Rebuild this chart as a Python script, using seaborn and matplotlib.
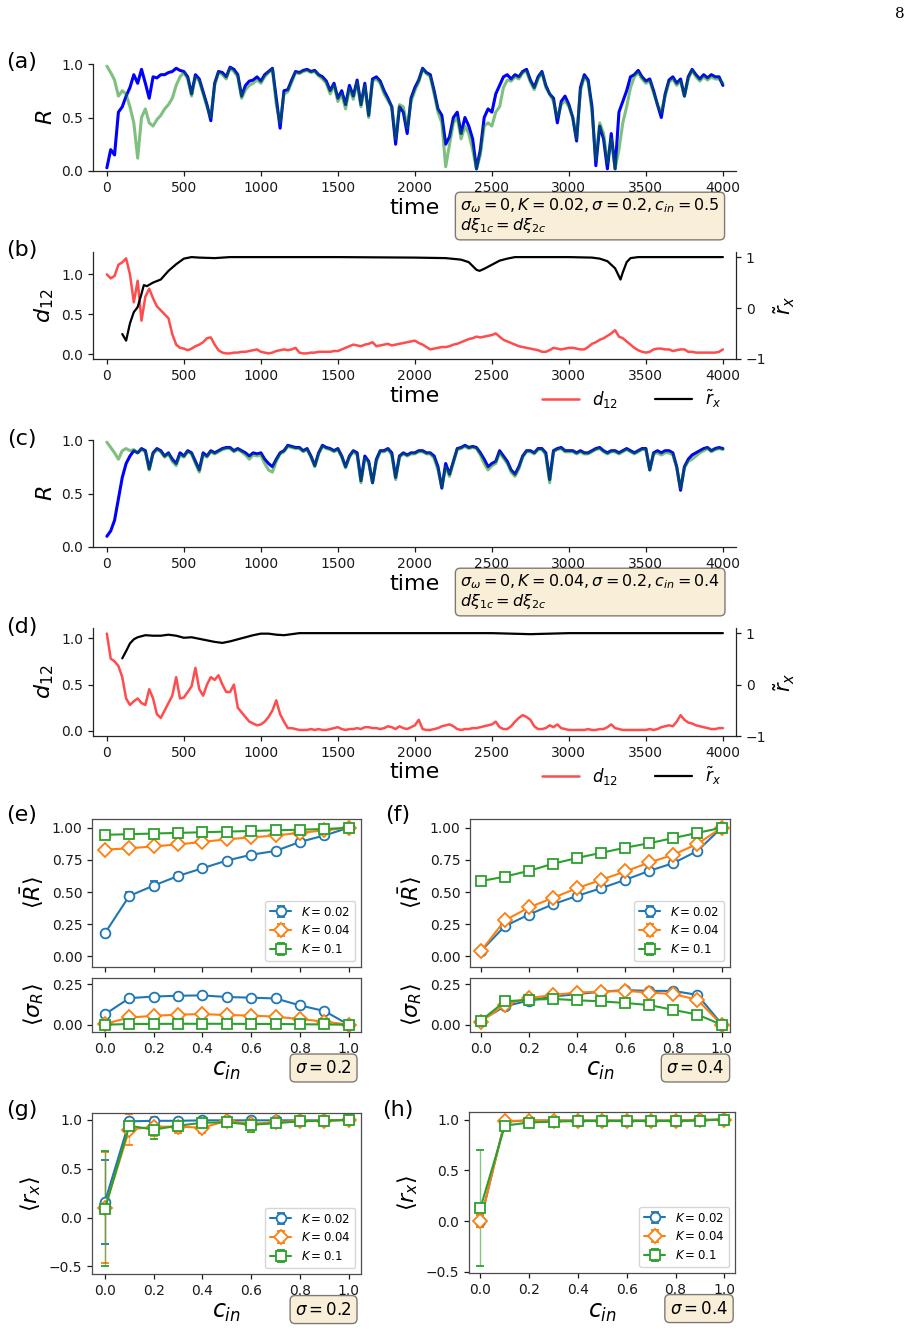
import numpy as np
import matplotlib
matplotlib.use("Agg")
import matplotlib.pyplot as plt
import seaborn as sns

# ------------------------------------------------------------------ data
DT = 25

# panel (a): sigma=0.2, K=0.02, c_in=0.5
R1_a = [0.03, 0.2, 0.15, 0.55, 0.6, 0.7, 0.78, 0.9,
        0.82, 0.95, 0.82, 0.68, 0.88, 0.87, 0.9, 0.9,
        0.92, 0.93, 0.96, 0.94, 0.93, 0.88, 0.72, 0.9,
        0.86, 0.74, 0.62, 0.47, 0.82, 0.93, 0.92, 0.88,
        0.97, 0.95, 0.9, 0.7, 0.8, 0.84, 0.85, 0.88,
        0.84, 0.9, 0.93, 0.96, 0.68, 0.4, 0.75, 0.76,
        0.85, 0.93, 0.92, 0.94, 0.95, 0.93, 0.94, 0.9,
        0.88, 0.84, 0.75, 0.82, 0.68, 0.75, 0.62, 0.8,
        0.7, 0.85, 0.62, 0.82, 0.52, 0.86, 0.88, 0.84,
        0.75, 0.68, 0.6, 0.25, 0.6, 0.55, 0.35, 0.68,
        0.78, 0.85, 0.96, 0.92, 0.9, 0.75, 0.58, 0.52,
        0.25, 0.32, 0.5, 0.55, 0.35, 0.5, 0.42, 0.3,
        0.02, 0.2, 0.5, 0.58, 0.55, 0.72, 0.8, 0.88,
        0.9, 0.86, 0.9, 0.88, 0.93, 0.95, 0.85, 0.78,
        0.88, 0.93, 0.8, 0.72, 0.68, 0.45, 0.65, 0.7,
        0.62, 0.5, 0.28, 0.78, 0.9, 0.85, 0.6, 0.05,
        0.42, 0.3, 0.02, 0.35, 0.02, 0.55, 0.65, 0.75,
        0.88, 0.9, 0.94, 0.88, 0.84, 0.86, 0.75, 0.62,
        0.5, 0.72, 0.85, 0.88, 0.82, 0.86, 0.7, 0.88,
        0.95, 0.9, 0.86, 0.9, 0.87, 0.9, 0.88, 0.88,
        0.8]
R2_a = [0.98, 0.92, 0.85, 0.7, 0.75, 0.72, 0.6, 0.45,
        0.12, 0.5, 0.58, 0.45, 0.42, 0.48, 0.52, 0.58,
        0.62, 0.68, 0.8, 0.88, 0.92, 0.86, 0.7, 0.88,
        0.84, 0.72, 0.6, 0.5, 0.8, 0.92, 0.9, 0.86,
        0.96, 0.93, 0.88, 0.68, 0.76, 0.8, 0.82, 0.85,
        0.82, 0.88, 0.92, 0.95, 0.62, 0.45, 0.72, 0.74,
        0.83, 0.92, 0.91, 0.93, 0.94, 0.92, 0.93, 0.89,
        0.86, 0.82, 0.72, 0.8, 0.65, 0.72, 0.58, 0.77,
        0.67, 0.83, 0.6, 0.8, 0.5, 0.84, 0.86, 0.82,
        0.72, 0.66, 0.6, 0.3, 0.62, 0.6, 0.4, 0.65,
        0.75, 0.83, 0.95, 0.91, 0.88, 0.72, 0.55, 0.45,
        0.04, 0.25, 0.45, 0.5, 0.3, 0.42, 0.35, 0.2,
        0.02, 0.15, 0.42, 0.45, 0.42, 0.55, 0.6, 0.78,
        0.85, 0.84, 0.88, 0.86, 0.92, 0.93, 0.83, 0.76,
        0.86, 0.92, 0.78, 0.72, 0.65, 0.5, 0.62, 0.66,
        0.6, 0.5, 0.3, 0.75, 0.88, 0.83, 0.55, 0.1,
        0.45, 0.35, 0.08, 0.3, 0.02, 0.2, 0.45, 0.6,
        0.78, 0.88, 0.92, 0.86, 0.82, 0.84, 0.73, 0.62,
        0.55, 0.7, 0.83, 0.86, 0.8, 0.84, 0.7, 0.86,
        0.94, 0.88, 0.84, 0.88, 0.85, 0.88, 0.86, 0.86,
        0.82]

# panel (b)
d12_b = [1.0, 0.95, 0.98, 1.12, 1.15, 1.2, 1.0, 0.65,
         0.92, 0.42, 0.72, 0.82, 0.7, 0.6, 0.55, 0.5,
         0.45, 0.25, 0.12, 0.08, 0.07, 0.05, 0.07, 0.1,
         0.12, 0.15, 0.2, 0.21, 0.12, 0.05, 0.02, 0.01,
         0.01, 0.02, 0.02, 0.03, 0.03, 0.04, 0.05, 0.06,
         0.03, 0.02, 0.01, 0.02, 0.04, 0.05, 0.06, 0.05,
         0.06, 0.08, 0.02, 0.01, 0.01, 0.02, 0.02, 0.03,
         0.03, 0.03, 0.03, 0.04, 0.04, 0.06, 0.08, 0.1,
         0.12, 0.11, 0.1, 0.12, 0.13, 0.15, 0.1, 0.11,
         0.12, 0.13, 0.11, 0.12, 0.13, 0.14, 0.15, 0.16,
         0.17, 0.14, 0.12, 0.09, 0.06, 0.07, 0.08, 0.09,
         0.09, 0.1, 0.12, 0.13, 0.15, 0.17, 0.19, 0.2,
         0.22, 0.21, 0.22, 0.23, 0.24, 0.26, 0.22, 0.18,
         0.16, 0.14, 0.12, 0.1, 0.09, 0.08, 0.07, 0.06,
         0.05, 0.03, 0.03, 0.05, 0.08, 0.07, 0.06, 0.07,
         0.08, 0.08, 0.07, 0.06, 0.06, 0.09, 0.13, 0.15,
         0.18, 0.2, 0.23, 0.26, 0.3, 0.22, 0.2, 0.16,
         0.12, 0.08, 0.05, 0.03, 0.02, 0.03, 0.06, 0.07,
         0.07, 0.06, 0.06, 0.04, 0.05, 0.06, 0.06, 0.03,
         0.03, 0.02, 0.02, 0.02, 0.02, 0.02, 0.02, 0.03,
         0.06]
rx_b_time = [100, 125, 150, 175, 200, 225, 240, 260, 300, 350, 400, 450,
             500, 550, 600, 700, 800, 1000, 1500, 2000, 2200, 2300, 2350,
             2400, 2420, 2450, 2500, 2550, 2600, 2650, 3000, 3150, 3200,
             3250, 3300, 3335, 3350, 3375, 3400, 3450, 3600, 4000]
rx_b = [-0.51, -0.64, -0.3, -0.08, 0.02, 0.28, 0.45, 0.43, 0.5, 0.56, 0.73,
        0.86, 0.97, 1.0, 0.99, 0.98, 1.0, 1.0, 1.0, 0.99, 0.98, 0.95, 0.9,
        0.75, 0.73, 0.77, 0.85, 0.93, 0.97, 1.0, 1.0, 0.99, 0.97, 0.92,
        0.78, 0.56, 0.7, 0.9, 0.98, 1.0, 1.0, 1.0]

# panel (c): sigma=0.2, K=0.04, c_in=0.4
R1_c = [0.1, 0.15, 0.25, 0.45, 0.65, 0.78, 0.85, 0.9,
        0.88, 0.92, 0.9, 0.73, 0.88, 0.92, 0.9, 0.85,
        0.88, 0.82, 0.78, 0.88, 0.85, 0.9, 0.88, 0.8,
        0.72, 0.88, 0.85, 0.9, 0.88, 0.9, 0.92, 0.93,
        0.93, 0.9, 0.92, 0.9, 0.88, 0.85, 0.88, 0.87,
        0.88, 0.82, 0.78, 0.75, 0.82, 0.88, 0.9, 0.95,
        0.94, 0.93, 0.93, 0.9, 0.92, 0.85, 0.76, 0.88,
        0.95, 0.93, 0.92, 0.9, 0.92, 0.85, 0.75, 0.85,
        0.9, 0.88, 0.62, 0.85, 0.8, 0.6, 0.82, 0.9,
        0.9, 0.92, 0.88, 0.65, 0.85, 0.88, 0.86, 0.88,
        0.88, 0.9, 0.9, 0.88, 0.88, 0.85, 0.75, 0.55,
        0.78, 0.68, 0.8, 0.92, 0.93, 0.95, 0.93, 0.94,
        0.93, 0.88, 0.82, 0.75, 0.78, 0.8, 0.9, 0.85,
        0.8, 0.72, 0.68, 0.75, 0.85, 0.9, 0.9, 0.88,
        0.92, 0.92, 0.88, 0.63, 0.9, 0.92, 0.93, 0.9,
        0.9, 0.9, 0.88, 0.9, 0.88, 0.88, 0.9, 0.92,
        0.93, 0.9, 0.88, 0.9, 0.9, 0.88, 0.9, 0.92,
        0.9, 0.88, 0.9, 0.92, 0.92, 0.72, 0.88, 0.9,
        0.88, 0.9, 0.9, 0.88, 0.75, 0.53, 0.75, 0.82,
        0.86, 0.88, 0.9, 0.92, 0.93, 0.9, 0.92, 0.93,
        0.92]
R2_c = [0.98, 0.93, 0.88, 0.82, 0.9, 0.92, 0.9, 0.91,
        0.88, 0.91, 0.89, 0.72, 0.87, 0.91, 0.89, 0.84,
        0.87, 0.8, 0.76, 0.86, 0.84, 0.89, 0.87, 0.78,
        0.7, 0.86, 0.84, 0.89, 0.87, 0.89, 0.91, 0.92,
        0.92, 0.89, 0.91, 0.89, 0.86, 0.82, 0.86, 0.85,
        0.86, 0.78, 0.72, 0.7, 0.8, 0.87, 0.89, 0.94,
        0.93, 0.92, 0.92, 0.89, 0.91, 0.84, 0.75, 0.87,
        0.94, 0.92, 0.91, 0.89, 0.91, 0.84, 0.74, 0.84,
        0.89, 0.86, 0.6, 0.83, 0.79, 0.6, 0.8, 0.89,
        0.89, 0.91, 0.86, 0.63, 0.84, 0.87, 0.85, 0.87,
        0.87, 0.89, 0.89, 0.87, 0.87, 0.83, 0.72, 0.56,
        0.75, 0.66, 0.79, 0.91, 0.92, 0.94, 0.92, 0.93,
        0.92, 0.86, 0.78, 0.72, 0.76, 0.78, 0.88, 0.83,
        0.78, 0.7, 0.66, 0.73, 0.84, 0.89, 0.89, 0.87,
        0.91, 0.91, 0.86, 0.6, 0.89, 0.91, 0.92, 0.89,
        0.89, 0.89, 0.87, 0.89, 0.87, 0.87, 0.89, 0.91,
        0.92, 0.89, 0.87, 0.89, 0.89, 0.87, 0.89, 0.91,
        0.89, 0.87, 0.89, 0.91, 0.91, 0.72, 0.87, 0.88,
        0.86, 0.88, 0.88, 0.86, 0.74, 0.55, 0.74, 0.8,
        0.82, 0.85, 0.88, 0.9, 0.92, 0.89, 0.91, 0.92,
        0.91]

# panel (d)
d12_d = [1.05, 0.78, 0.75, 0.7, 0.58, 0.35, 0.28, 0.32,
         0.35, 0.3, 0.28, 0.45, 0.35, 0.18, 0.14, 0.22,
         0.3, 0.38, 0.58, 0.35, 0.36, 0.42, 0.48, 0.68,
         0.45, 0.38, 0.5, 0.58, 0.55, 0.6, 0.5, 0.42,
         0.42, 0.5, 0.25, 0.2, 0.15, 0.1, 0.08, 0.06,
         0.07, 0.1, 0.15, 0.22, 0.33, 0.18, 0.1, 0.03,
         0.03, 0.02, 0.01, 0.01, 0.01, 0.02, 0.01, 0.02,
         0.01, 0.01, 0.02, 0.03, 0.04, 0.02, 0.01, 0.02,
         0.02, 0.03, 0.02, 0.04, 0.04, 0.03, 0.03, 0.02,
         0.03, 0.05, 0.04, 0.02, 0.05, 0.03, 0.02, 0.04,
         0.06, 0.12, 0.02, 0.01, 0.01, 0.02, 0.03, 0.05,
         0.06, 0.07, 0.05, 0.02, 0.01, 0.02, 0.02, 0.03,
         0.03, 0.04, 0.05, 0.06, 0.07, 0.1, 0.04, 0.02,
         0.02, 0.05, 0.1, 0.14, 0.17, 0.15, 0.12, 0.05,
         0.02, 0.02, 0.03, 0.06, 0.04, 0.07, 0.03, 0.02,
         0.01, 0.01, 0.01, 0.01, 0.01, 0.02, 0.01, 0.01,
         0.02, 0.02, 0.04, 0.07, 0.03, 0.02, 0.01, 0.01,
         0.01, 0.01, 0.01, 0.01, 0.01, 0.02, 0.01, 0.02,
         0.04, 0.05, 0.06, 0.05, 0.1, 0.17, 0.12, 0.09,
         0.08, 0.06, 0.05, 0.04, 0.03, 0.02, 0.02, 0.03,
         0.03]
rx_d_time = [100, 125, 150, 175, 200, 250, 300, 350, 400, 450, 500, 550,
             600, 650, 700, 750, 800, 850, 900, 950, 1000, 1050, 1100, 1150,
             1200, 1250, 1500, 2000, 2500, 2750, 3000, 3500, 4000]
rx_d = [0.51, 0.65, 0.8, 0.88, 0.92, 0.96, 0.95, 0.95, 0.97, 0.95, 0.91,
        0.92, 0.89, 0.86, 0.83, 0.81, 0.84, 0.88, 0.92, 0.96, 0.99, 0.99,
        0.97, 0.96, 0.98, 1.0, 1.0, 1.0, 1.0, 0.98, 1.0, 1.0, 1.0]

# panels (e)-(h)
c_in = [0.0, 0.1, 0.2, 0.3, 0.4, 0.5, 0.6, 0.7, 0.8, 0.9, 1.0]
K_labels = [r"$K=0.02$", r"$K=0.04$", r"$K=0.1$"]

Rbar_e = [[0.18, 0.47, 0.55, 0.625, 0.685, 0.745, 0.79, 0.82, 0.89, 0.94, 1.0],
          [0.83, 0.84, 0.855, 0.87, 0.89, 0.91, 0.925, 0.94, 0.96, 0.98, 1.0],
          [0.945, 0.95, 0.955, 0.96, 0.965, 0.97, 0.975, 0.98, 0.985, 0.99, 1.0]]
Rbar_e_err = [[0.02, 0.03, 0.035, 0.02, 0.015, 0.01, 0.01, 0.01, 0.01, 0.01, 0.0],
              [0.005, 0.005, 0.005, 0.005, 0.005, 0.005, 0.005, 0.005, 0.005, 0.005, 0.0],
              [0.003, 0.003, 0.003, 0.003, 0.003, 0.003, 0.003, 0.003, 0.003, 0.003, 0.0]]
sigR_e = [[0.065, 0.165, 0.175, 0.18, 0.182, 0.172, 0.168, 0.163, 0.12, 0.085, 0.0],
          [0.005, 0.045, 0.055, 0.063, 0.066, 0.06, 0.057, 0.05, 0.035, 0.02, 0.0],
          [0.0, 0.005, 0.005, 0.006, 0.006, 0.006, 0.005, 0.005, 0.003, 0.002, 0.0]]
sigR_e_err = [[0.006, 0.006, 0.006, 0.006, 0.006, 0.006, 0.008, 0.008, 0.006, 0.006, 0.0],
              [0.003] * 10 + [0.0],
              [0.002] * 10 + [0.0]]

Rbar_f = [[0.04, 0.235, 0.325, 0.405, 0.47, 0.53, 0.595, 0.665, 0.725, 0.82, 1.0],
          [0.04, 0.28, 0.38, 0.455, 0.53, 0.595, 0.66, 0.73, 0.79, 0.875, 1.0],
          [0.585, 0.62, 0.665, 0.72, 0.765, 0.805, 0.845, 0.88, 0.92, 0.96, 1.0]]
Rbar_f_err = [[0.005] * 10 + [0.0]] * 3
sigR_f = [[0.025, 0.115, 0.15, 0.175, 0.19, 0.205, 0.215, 0.21, 0.21, 0.185, 0.005],
          [0.02, 0.125, 0.165, 0.185, 0.2, 0.205, 0.21, 0.2, 0.19, 0.155, 0.0],
          [0.025, 0.145, 0.155, 0.16, 0.152, 0.145, 0.135, 0.122, 0.092, 0.063, 0.0]]
sigR_f_err = [[0.004] * 10 + [0.0]] * 3

rx_g = [[0.16, 0.985, 0.99, 0.99, 0.995, 0.995, 0.995, 0.995, 0.995, 0.995, 1.0],
        [0.10, 0.90, 0.93, 0.93, 0.92, 0.99, 0.96, 0.975, 0.99, 0.99, 1.0],
        [0.09, 0.94, 0.90, 0.94, 0.97, 0.975, 0.95, 0.965, 0.985, 0.99, 1.0]]
rx_g_err = [[0.43, 0.01, 0.01, 0.01, 0.005, 0.005, 0.005, 0.005, 0.005, 0.005, 0.0],
            [0.57, 0.16, 0.1, 0.06, 0.05, 0.03, 0.04, 0.03, 0.04, 0.03, 0.03],
            [0.59, 0.05, 0.1, 0.05, 0.03, 0.03, 0.07, 0.03, 0.02, 0.02, 0.01]]
rx_h = [[0.0, 0.98, 0.99, 0.99, 0.99, 0.99, 0.99, 0.99, 0.99, 0.995, 1.0],
        [0.0, 0.985, 0.99, 0.99, 0.99, 0.99, 0.99, 0.99, 0.99, 0.995, 1.0],
        [0.13, 0.94, 0.97, 0.98, 0.985, 0.985, 0.985, 0.985, 0.985, 0.99, 1.0]]
rx_h_err = [[0.06, 0.01, 0.005, 0.005, 0.005, 0.005, 0.005, 0.005, 0.005, 0.005, 0.0],
            [0.06, 0.01, 0.005, 0.005, 0.005, 0.005, 0.005, 0.005, 0.005, 0.005, 0.0],
            [0.57, 0.02, 0.01, 0.01, 0.005, 0.005, 0.005, 0.005, 0.005, 0.005, 0.0]]

# ------------------------------------------------------------------ style
sns.set_theme(style="ticks", context="notebook")
plt.rcParams.update({
    "font.family": ["DejaVu Sans"],
    "axes.linewidth": 0.9,
    "axes.edgecolor": "0.15",
    "xtick.major.size": 3.5, "ytick.major.size": 3.5,
    "xtick.major.width": 0.9, "ytick.major.width": 0.9,
    "xtick.labelsize": 10, "ytick.labelsize": 10,
    "xtick.color": "0.1", "ytick.color": "0.1",
    "text.color": "black", "axes.labelcolor": "black",
    "mathtext.fontset": "dejavusans",
})

W, H = 912, 1329
fig = plt.figure(figsize=(W / 100, H / 100), dpi=100)


def px_rect(x0, y0, x1, y1):
    return [x0 / W, 1 - y1 / H, (x1 - x0) / W, (y1 - y0) / H]


TLIM = (-90, 4085)
WHEAT = (0.9608, 0.8706, 0.7020, 0.5)
BOX = dict(boxstyle="round", facecolor=WHEAT, edgecolor=(0, 0, 0, 0.5), lw=1.0)
tab = sns.color_palette("tab10")
COLS = [tab[0], tab[1], tab[2]]
MARKS = ["o", "D", "s"]
MSIZE = [7, 7, 7]


def series(ax, y, color, alpha=1.0, lw=1.7, t=None):
    if t is None:
        t = np.arange(len(y)) * DT
    sns.lineplot(x=t, y=y, ax=ax, color=color, alpha=alpha, lw=lw,
                 estimator=None, sort=False, legend=False)
    return ax.lines[-1]


def style_ts(ax, ylabel):
    sns.despine(ax=ax)
    ax.set_xlim(*TLIM)
    ax.set_xticks(np.arange(0, 4001, 500))
    ax.set_xlabel("time", fontsize=16, labelpad=2)
    ax.set_ylabel(ylabel, fontsize=16)


def r_panel(ax, R1, R2, info):
    series(ax, R1, "blue", 1.0, lw=2.2)
    series(ax, R2, "green", 0.5, lw=2.2)
    style_ts(ax, r"$R$")
    ax.set_ylim(0, 1)
    ax.set_yticks([0, 0.5, 1.0])
    ax.text(0.571, -0.24, info, transform=ax.transAxes, fontsize=11.5,
            va="top", ha="left", bbox=BOX, linespacing=1.05)


def d_panel(ax, d12, rt, rx, ylim):
    h1 = series(ax, d12, "red", 0.7, lw=1.8)
    style_ts(ax, r"$d_{12}$")
    ax.set_ylim(*ylim)
    ax.set_yticks([0, 0.5, 1.0])
    ax2 = ax.twinx()
    h2 = series(ax2, rx, "black", 1.0, lw=1.6, t=rt)
    ax2.set_ylim(-1, 1.1)
    ax2.set_yticks([-1, 0, 1])
    for s in ["top", "left", "bottom"]:
        ax2.spines[s].set_visible(False)
    ax2.set_ylabel(r"$\tilde{r}_x$", fontsize=15, labelpad=4)
    ax.legend([h1, h2], [r"$d_{12}$", r"$\tilde{r}_x$"], loc="center right",
              bbox_to_anchor=(1.0, -0.37), ncol=2, frameon=False,
              fontsize=12, handlelength=2.2, columnspacing=2.2)


info_a = (r"$\sigma_\omega=0, K=0.02, \sigma=0.2, c_{in}=0.5$" + "\n"
          + r"$d\xi_{1c}=d\xi_{2c}$")
info_c = (r"$\sigma_\omega=0, K=0.04, \sigma=0.2, c_{in}=0.4$" + "\n"
          + r"$d\xi_{1c}=d\xi_{2c}$")

ax_a = fig.add_axes(px_rect(93, 64, 736, 171))
r_panel(ax_a, R1_a, R2_a, info_a)
ax_b = fig.add_axes(px_rect(93, 252, 736, 359))
d_panel(ax_b, d12_b, rx_b_time, rx_b, (-0.06, 1.28))
ax_c = fig.add_axes(px_rect(93, 440, 736, 547))
r_panel(ax_c, R1_c, R2_c, info_c)
ax_d = fig.add_axes(px_rect(93, 628, 736, 736))
d_panel(ax_d, d12_d, rx_d_time, rx_d, (-0.055, 1.11))


# ------------------------------------------------------------------ lower panels
def err_lines(ax, vals, errs, legend=True):
    for k in range(3):
        _, caps, bars = ax.errorbar(c_in, vals[k], yerr=errs[k], marker=MARKS[k],
                                    ms=MSIZE[k], mfc="white", mec=COLS[k], mew=1.3,
                                    color=COLS[k], lw=1.5, capsize=3, elinewidth=1.0,
                                    label=K_labels[k])
        for b in bars:
            b.set_alpha(0.6)
    for s in ax.spines.values():
        s.set_visible(True)
        s.set_color("0.3")
    ax.set_xticks([0, 0.2, 0.4, 0.6, 0.8, 1.0])
    if legend:
        ax.legend(loc="lower right", fontsize=8.5, handlelength=1.8)


def ef_panel(x0, x1, Rb, Rb_err, sg, sg_err, ylim_top, xlim, sigma_txt):
    ax1 = fig.add_axes(px_rect(x0, 819, x1, 967))
    ax2 = fig.add_axes(px_rect(x0, 978, x1, 1032))
    err_lines(ax1, Rb, Rb_err)
    err_lines(ax2, sg, sg_err, legend=False)
    ax1.set_ylim(*ylim_top)
    ax1.set_yticks([0, 0.25, 0.5, 0.75, 1.0])
    ax1.tick_params(labelbottom=False)
    ax1.set_xlim(*xlim)
    ax2.set_xlim(*xlim)
    ax2.set_ylim(-0.045, 0.29)
    ax2.set_yticks([0, 0.25])
    ax1.set_ylabel(r"$\langle\bar{R}\rangle$", fontsize=16)
    ax2.set_ylabel(r"$\langle\sigma_R\rangle$", fontsize=16)
    ax2.set_xlabel(r"$c_{in}$", fontsize=17, labelpad=2)
    ax2.text(0.755, -0.5, sigma_txt, transform=ax2.transAxes, fontsize=12,
             va="top", ha="left", bbox=BOX)
    return ax1, ax2


ef_panel(92, 361, Rbar_e, Rbar_e_err, sigR_e, sigR_e_err,
         (-0.083, 1.068), (-0.053, 1.05), r"$\sigma=0.2$")
ef_panel(470, 730, Rbar_f, Rbar_f_err, sigR_f, sigR_f_err,
         (-0.083, 1.068), (-0.045, 1.035), r"$\sigma=0.4$")


def gh_panel(rect, vals, errs, ylim, xlim, sigma_txt):
    ax = fig.add_axes(px_rect(*rect))
    err_lines(ax, vals, errs)
    ax.set_ylim(*ylim)
    ax.set_xlim(*xlim)
    ax.set_yticks([-0.5, 0, 0.5, 1.0])
    ax.set_ylabel(r"$\langle r_x\rangle$", fontsize=16)
    ax.set_xlabel(r"$c_{in}$", fontsize=17, labelpad=2)
    ax.text(0.755, -0.165, sigma_txt, transform=ax.transAxes, fontsize=12,
            va="top", ha="left", bbox=BOX)
    return ax


gh_panel((92, 1113, 361, 1274), rx_g, rx_g_err, (-0.578, 1.07), (-0.053, 1.05),
         r"$\sigma=0.2$")
gh_panel((469, 1112, 735, 1273), rx_h, rx_h_err, (-0.512, 1.074), (-0.047, 1.044),
         r"$\sigma=0.4$")

# panel letters and page number
for lab, x, y in [("(a)", 22, 62), ("(b)", 22, 250), ("(c)", 22, 439),
                  ("(d)", 22, 627), ("(e)", 22, 815), ("(f)", 398, 815),
                  ("(g)", 22, 1110), ("(h)", 398, 1110)]:
    fig.text(x / W, 1 - y / H, lab, fontsize=16, ha="center", va="center")
fig.text(900 / W, 1 - 14 / H, "8", fontsize=11, ha="center", va="center",
         family="DejaVu Serif")

fig.savefig("out.png", dpi=100)
